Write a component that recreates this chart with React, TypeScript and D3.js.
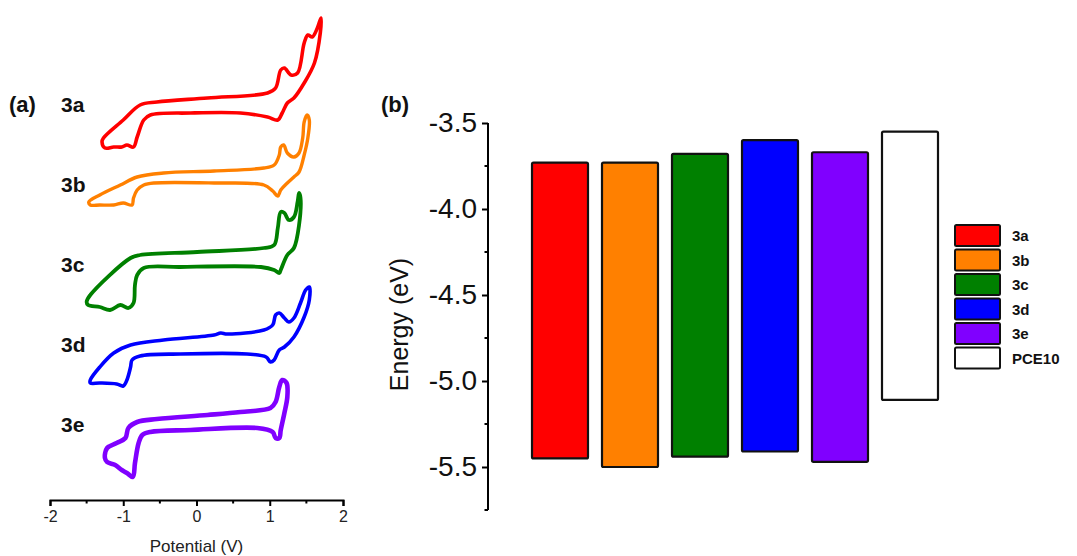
import React, { useRef, useEffect } from "react";
import * as d3 from "d3";

// ── CV data: [potential (V), current (a.u.)] traced round each loop ──
const CV_LABELS = ["3a", "3b", "3c", "3d", "3e"];
const CV_COLORS = ["#ff0000", "#ff8000", "#008000", "#0000ff", "#8000ff"];
const CV_OFFSETS = [380, 300, 220, 140, 60];
const CV_WIDTHS = [3.6, 3.4, 3.8, 3.6, 4.6];

const CV_3A = [
  [-1.27, -18], [-1.0, 0], [-0.77, 15], [-0.54, 18], [0.15, 22], [0.97, 27], [1.08, 32],
  [1.15, 50], [1.2, 52], [1.29, 45], [1.38, 47], [1.47, 77], [1.52, 85], [1.58, 83],
  [1.65, 92], [1.7, 102], [1.69, 87], [1.61, 57], [1.47, 37], [1.33, 22], [1.24, 17],
  [1.17, 7], [1.11, 0], [0.97, 3], [0.6, 7], [-0.08, 7], [-0.63, 5], [-0.72, 0],
  [-0.81, -17], [-0.86, -27], [-0.95, -25], [-1.02, -27], [-1.13, -27], [-1.25, -28], [-1.29, -22],
];
const CV_3B = [
  [-1.47, -2], [-1.32, 5], [-1.04, 15], [-0.81, 23], [-0.45, 27], [0.24, 29], [0.92, 32],
  [1.06, 35], [1.13, 45], [1.15, 53], [1.19, 55], [1.24, 47], [1.33, 43], [1.4, 47],
  [1.45, 62], [1.47, 78], [1.51, 85], [1.54, 80], [1.52, 62], [1.47, 45], [1.4, 28],
  [1.33, 23], [1.24, 17], [1.15, 10], [1.11, 4], [1.04, 9], [0.92, 15], [0.24, 17],
  [-0.58, 17], [-0.72, 15], [-0.81, 10], [-0.86, 2], [-0.88, -5], [-1.0, -3], [-1.13, -5],
  [-1.32, -5], [-1.45, -5],
];
const CV_3C = [
  [-1.5, -22], [-1.45, -15], [-0.9, 22], [-0.77, 25], [0.01, 28], [0.92, 32], [1.06, 35],
  [1.11, 52], [1.15, 68], [1.2, 67], [1.26, 60], [1.33, 63], [1.38, 78], [1.4, 87],
  [1.42, 82], [1.4, 55], [1.33, 32], [1.24, 25], [1.15, 10], [1.13, 7], [1.06, 10],
  [0.88, 13], [-0.22, 13], [-0.72, 12], [-0.81, 5], [-0.84, -5], [-0.86, -23], [-0.93, -28],
  [-1.04, -25], [-1.18, -30], [-1.32, -27], [-1.48, -25],
];
const CV_3D = [
  [-1.45, -20], [-1.32, -7], [-1.13, 7], [-0.9, 15], [-0.45, 20], [0.24, 25], [0.33, 27],
  [0.42, 26], [0.92, 30], [1.04, 35], [1.08, 45], [1.13, 47], [1.2, 42], [1.26, 38],
  [1.33, 42], [1.42, 57], [1.49, 70], [1.54, 73], [1.54, 60], [1.47, 43], [1.33, 23],
  [1.2, 13], [1.13, 10], [1.06, 0], [1.01, -2], [0.95, 3], [0.69, 6], [-0.22, 6],
  [-0.77, 4], [-0.88, 0], [-0.9, -7], [-0.95, -20], [-1.0, -26], [-1.09, -24], [-1.32, -23],
  [-1.45, -23],
];
const CV_3E = [
  [-1.25, -18], [-1.22, -8], [-1.09, -3], [-0.97, 2], [-0.93, 12], [-0.81, 18], [-0.54, 21],
  [0.15, 25], [0.6, 28], [1.01, 32], [1.08, 38], [1.13, 53], [1.17, 60], [1.23, 57],
  [1.24, 43], [1.2, 27], [1.15, 10], [1.13, 2], [1.08, 2], [1.04, 8], [0.83, 12],
  [-0.08, 10], [-0.63, 8], [-0.74, 5], [-0.79, -3], [-0.84, -23], [-0.87, -37], [-0.95, -33],
  [-1.02, -30], [-1.11, -25], [-1.22, -22],
];
const CV_DATA = [CV_3A, CV_3B, CV_3C, CV_3D, CV_3E];

const POT_TICKS = [-2, -1, 0, 1, 2];
const POT_MINOR = [-1.5, -0.5, 0.5, 1.5];

// ── Energy levels (eV) ──
const BAR_LABELS = ["3a", "3b", "3c", "3d", "3e", "PCE10"];
const LUMO = [-3.73, -3.73, -3.68, -3.6, -3.67, -3.55];
const HOMO = [-5.45, -5.5, -5.44, -5.41, -5.47, -5.11];
const BAR_COLORS = ["#ff0000", "#ff8000", "#008000", "#0000ff", "#8000ff", "#ffffff"];

const E_TICKS = [-3.5, -4.0, -4.5, -5.0, -5.5];
const E_MINOR = [-3.75, -4.25, -4.75, -5.25, -5.75];

const FONT = "Arial, 'Liberation Sans', Helvetica, sans-serif";

// plain hyphen instead of d3's unicode minus
const hyphen = (fmt: (n: number) => string) => (n: any) => fmt(n).replace("\u2212", "-");

export default function App() {
  const svgRef = useRef<SVGSVGElement>(null);

  useEffect(() => {
    const svg = d3.select(svgRef.current);
    svg.selectAll("*").remove();

    // ── Panel (a): cyclic voltammograms ─────────────────────
    const x = d3.scaleLinear().domain([-2, 2]).range([50, 343]);
    const y = d3.scaleLinear().domain([0, 500]).range([500, 0]);

    CV_DATA.forEach((pts, i) => {
      const line = d3
        .line<number[]>()
        .x((d) => x(d[0]))
        .y((d) => y(d[1] + CV_OFFSETS[i]))
        .curve(d3.curveCatmullRomClosed.alpha(0.5));
      svg
        .append("path")
        .attr("d", line(pts))
        .attr("fill", "none")
        .attr("stroke", CV_COLORS[i])
        .attr("stroke-width", CV_WIDTHS[i])
        .attr("stroke-linejoin", "round");

      svg
        .append("text")
        .attr("x", 61)
        .attr("y", y(CV_OFFSETS[i] + 8))
        .attr("font-size", 21)
        .attr("font-weight", "bold")
        .attr("fill", "#111")
        .text(CV_LABELS[i]);
    });

    const xAxis = svg.append("g").attr("transform", "translate(0,500)");
    xAxis
      .call(
        d3
          .axisBottom(x)
          .tickValues(POT_TICKS)
          .tickFormat(hyphen(d3.format("d")))
          .tickSize(6)
          .tickPadding(5),
      )
      .call((g) => g.select(".domain").attr("stroke-width", 2))
      .call((g) => g.selectAll(".tick line").attr("stroke-width", 2))
      .call((g) =>
        g.selectAll("text").attr("font-size", 16).attr("font-family", FONT).attr("fill", "#222"),
      );
    xAxis
      .selectAll("line.minor")
      .data(POT_MINOR)
      .join("line")
      .attr("class", "minor")
      .attr("x1", (d) => x(d))
      .attr("x2", (d) => x(d))
      .attr("y1", 0)
      .attr("y2", 3.5)
      .attr("stroke", "#000")
      .attr("stroke-width", 2);

    svg
      .append("text")
      .attr("x", x(0))
      .attr("y", 552)
      .attr("text-anchor", "middle")
      .attr("font-size", 17)
      .attr("fill", "#222")
      .text("Potential (V)");

    svg
      .append("text")
      .attr("x", 9)
      .attr("y", 112)
      .attr("font-size", 22)
      .attr("font-weight", "bold")
      .attr("fill", "#111")
      .text("(a)");

    // ── Panel (b): energy levels ────────────────────────────
    const e = d3.scaleLinear().domain([-5.75, -3.5]).range([510, 123]);
    const band = d3
      .scaleBand()
      .domain(BAR_LABELS)
      .range([525, 945])
      .paddingInner(0.2)
      .paddingOuter(0.1);

    const yAxis = svg.append("g").attr("transform", "translate(488,0)");
    yAxis
      .call(
        d3
          .axisLeft(e)
          .tickValues(E_TICKS)
          .tickFormat(hyphen(d3.format(".1f")))
          .tickSize(6)
          .tickPadding(5),
      )
      .call((g) =>
        g.select(".domain").attr("stroke-width", 2).attr("d", `M0,${e(-3.5)}V${e(-5.75)}`),
      )
      .call((g) => g.selectAll(".tick line").attr("stroke-width", 2))
      .call((g) =>
        g.selectAll("text").attr("font-size", 28).attr("font-family", FONT).attr("fill", "#111"),
      );
    yAxis
      .selectAll("line.minor")
      .data(E_MINOR)
      .join("line")
      .attr("class", "minor")
      .attr("x1", 0)
      .attr("x2", -3.5)
      .attr("y1", (d) => e(d))
      .attr("y2", (d) => e(d))
      .attr("stroke", "#000")
      .attr("stroke-width", 2);

    svg
      .append("text")
      .attr("transform", `translate(408,${(e(-3.5) + e(-5.75)) / 2 + 8}) rotate(-90)`)
      .attr("text-anchor", "middle")
      .attr("font-size", 25)
      .attr("fill", "#111")
      .text("Energy (eV)");

    svg
      .selectAll("rect.bar")
      .data(BAR_LABELS)
      .join("rect")
      .attr("class", "bar")
      .attr("x", (d) => band(d)!)
      .attr("width", band.bandwidth())
      .attr("y", (_d, i) => e(LUMO[i]))
      .attr("height", (_d, i) => e(HOMO[i]) - e(LUMO[i]))
      .attr("rx", 1.5)
      .attr("fill", (_d, i) => BAR_COLORS[i])
      .attr("stroke", "#111")
      .attr("stroke-width", 2.2);

    svg
      .append("text")
      .attr("x", 381)
      .attr("y", 112)
      .attr("font-size", 22)
      .attr("font-weight", "bold")
      .attr("fill", "#111")
      .text("(b)");

    // ── Legend ──────────────────────────────────────────────
    const legend = svg.append("g").attr("transform", "translate(955,225)");
    BAR_LABELS.forEach((lab, i) => {
      const row = legend.append("g").attr("transform", `translate(0,${i * 24.5})`);
      row
        .append("rect")
        .attr("width", 45)
        .attr("height", 21)
        .attr("rx", 1.5)
        .attr("fill", BAR_COLORS[i])
        .attr("stroke", "#111")
        .attr("stroke-width", 2);
      row
        .append("text")
        .attr("x", 57)
        .attr("y", 16)
        .attr("font-size", 15)
        .attr("font-weight", "bold")
        .attr("fill", "#111")
        .text(lab);
    });
  }, []);

  return (
    <svg
      ref={svgRef}
      width={1077}
      height={556}
      style={{ position: "absolute", left: 0, top: 0, background: "#fff", fontFamily: FONT }}
    />
  );
}
